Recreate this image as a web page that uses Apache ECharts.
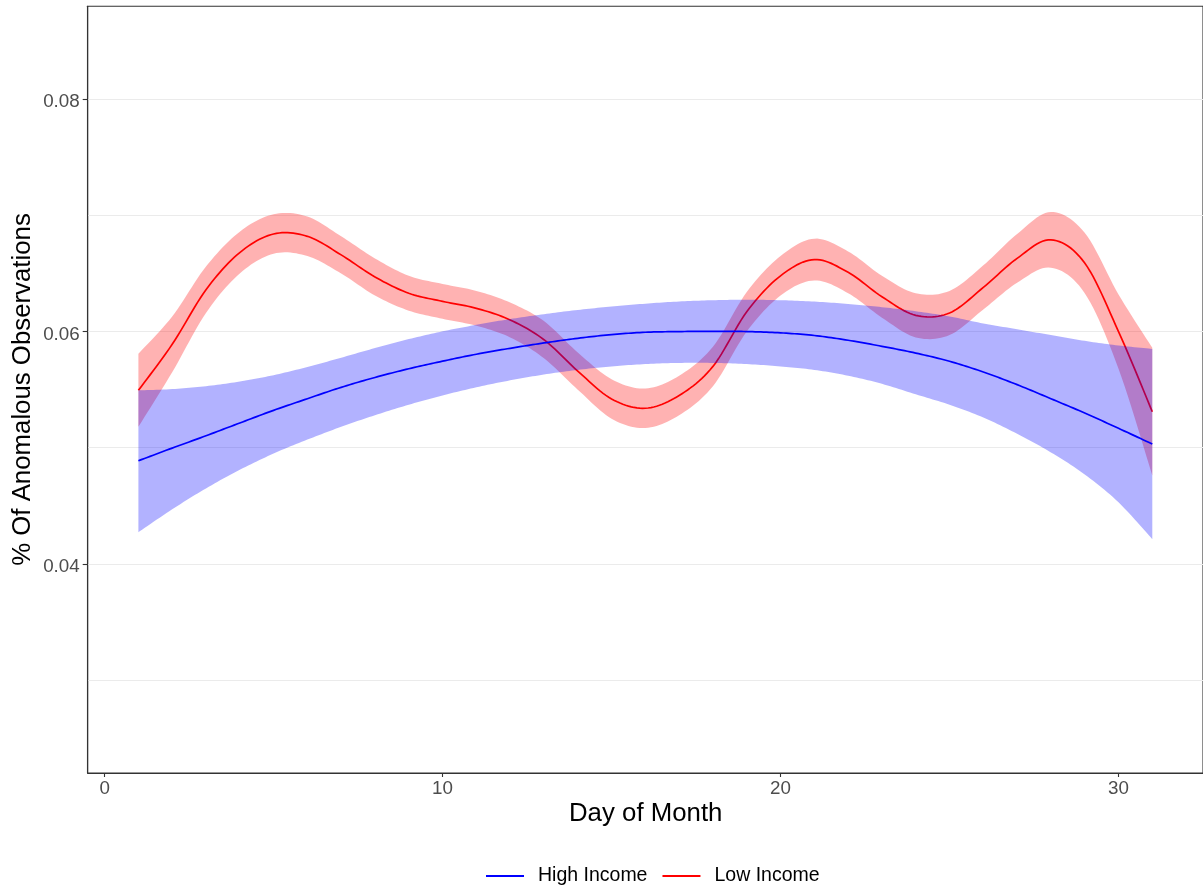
<!DOCTYPE html>
<html>
<head>
<meta charset="utf-8">
<script src="https://cdn.jsdelivr.net/npm/echarts@6/dist/echarts.min.js"></script>
<style>
html,body{margin:0;padding:0;background:#ffffff;}
#chart{width:1203px;height:888px;}
</style>
</head>
<body>
<div id="chart"></div>
<script>
// ---- data ----
const days = [1,2,3,4,5,6,7,8,9,10,11,12,13,14,15,16,17,18,19,20,21,22,23,24,25,26,27,28,29,30,31];

const highMean  = [0.04888,0.04997,0.05103,0.05213,0.05322,0.05422,0.0552,0.05605,0.0568,0.05745,0.05805,0.05856,0.05902,0.05942,0.05974,0.05994,0.06,0.06002,0.06,0.05989,0.05966,0.05925,0.05873,0.05815,0.05744,0.05652,0.05543,0.05422,0.05299,0.05167,0.05032];
const highUpper = [0.05494,0.05505,0.0553,0.0557,0.05625,0.05695,0.05775,0.05858,0.05935,0.06002,0.06058,0.06108,0.0615,0.06186,0.06216,0.0624,0.06259,0.0627,0.06274,0.0627,0.06258,0.06238,0.0621,0.06175,0.0613,0.0607,0.0602,0.0597,0.0592,0.0588,0.05851];
const highLower = [0.04273,0.0447,0.0465,0.0481,0.0495,0.0507,0.0518,0.0528,0.0537,0.0545,0.0552,0.0558,0.0563,0.0567,0.057,0.0572,0.0573,0.0573,0.0572,0.057,0.0567,0.0562,0.0555,0.0546,0.0537,0.0526,0.0512,0.0496,0.0477,0.0453,0.04213];

const lowMean  = [0.05494,0.0589,0.0636,0.0668,0.0684,0.0682,0.0666,0.0647,0.0633,0.0626,0.062,0.061,0.0593,0.0566,0.0542,0.0534,0.0545,0.057,0.0617,0.0648,0.0662,0.0651,0.063,0.0614,0.0616,0.0638,0.0663,0.0679,0.0659,0.06,0.0531];
const lowUpper = [0.0581,0.0613,0.0656,0.0686,0.0701,0.0699,0.0682,0.0663,0.0648,0.0641,0.0635,0.0625,0.0609,0.0582,0.0559,0.0551,0.0562,0.0587,0.0634,0.0665,0.068,0.0669,0.0648,0.0633,0.0635,0.0657,0.0684,0.0703,0.0685,0.0632,0.0586];
const lowLower = [0.0518,0.0565,0.0616,0.065,0.0667,0.0665,0.065,0.0631,0.0618,0.0611,0.0605,0.0595,0.0577,0.055,0.0525,0.0517,0.0528,0.0553,0.06,0.0631,0.0644,0.0633,0.0612,0.0595,0.0597,0.0619,0.0642,0.0655,0.0633,0.0568,0.0476];

const xTicks = [0, 10, 20, 30];
const yLabelTicks = [0.04, 0.06, 0.08];
const yGridTicks = [0.03, 0.04, 0.05, 0.06, 0.07, 0.08];
const seriesNames = ['High Income', 'Low Income'];

// ---- build ----
const FONT = '"Liberation Sans", Arial, Helvetica, sans-serif';

// Catmull-Rom smoothing of already-projected pixel points (drawing only)
function smoothPx(pts, steps) {
  const out = [];
  const n = pts.length;
  for (let i = 0; i < n - 1; i++) {
    const p0 = pts[Math.max(i - 1, 0)], p1 = pts[i], p2 = pts[i + 1], p3 = pts[Math.min(i + 2, n - 1)];
    for (let s = 0; s < steps; s++) {
      const t = s / steps, t2 = t * t, t3 = t2 * t;
      const f = k => 0.5 * (2 * p1[k] + (-p0[k] + p2[k]) * t + (2 * p0[k] - 5 * p1[k] + 4 * p2[k] - p3[k]) * t2 + (-p0[k] + 3 * p1[k] - 3 * p2[k] + p3[k]) * t3);
      out.push([f(0), f(1)]);
    }
  }
  out.push(pts[n - 1]);
  return out;
}

function makeGroup(name, color, bandColor, mean, upper, lower) {
  return {
    name: name,
    type: 'custom',
    coordinateSystem: 'cartesian2d',
    data: [[days[0], mean[0]]],
    itemStyle: { color: color },
    silent: true,
    clip: true,
    renderItem: function (params, api) {
      const up = smoothPx(days.map((d, i) => api.coord([d, upper[i]])), 12);
      const lo = smoothPx(days.map((d, i) => api.coord([d, lower[i]])), 12);
      const mid = smoothPx(days.map((d, i) => api.coord([d, mean[i]])), 12);
      const poly = up.concat(lo.slice().reverse());
      return {
        type: 'group',
        children: [
          { type: 'polygon', shape: { points: poly }, style: { fill: bandColor, stroke: null } },
          { type: 'polyline', shape: { points: mid }, style: { stroke: color, lineWidth: 1.7, fill: null } }
        ]
      };
    }
  };
}

const chart = echarts.init(document.getElementById('chart'), null, { renderer: 'canvas' });

const option = {
  backgroundColor: '#ffffff',
  animation: false,
  grid: { left: 87.7, top: 6.3, width: 1116, height: 766.7, show: true,
          borderColor: '#333333', borderWidth: 1.1, backgroundColor: 'transparent' },
  legend: {
    data: seriesNames,
    left: 481, top: 861,
    icon: 'rect', itemWidth: 38, itemHeight: 2, itemGap: 15,
    textStyle: { fontFamily: FONT, fontSize: 19.5, color: '#000000', padding: [0, 0, 0, 9] }
  },
  xAxis: {
    type: 'value', min: -0.5, max: 32.5,
    axisLine: { show: true, onZero: false, lineStyle: { color: '#333333', width: 1.1 } },
    axisTick: { show: true, length: 4, customValues: xTicks, lineStyle: { color: '#333333', width: 1.1 } },
    axisLabel: { customValues: xTicks, color: '#4d4d4d', fontSize: 18.8, fontFamily: FONT, margin: 6 },
    splitLine: { show: false }
  },
  yAxis: [
    {
      type: 'value', min: 0.022, max: 0.088,
      axisLine: { show: true, onZero: false, lineStyle: { color: '#333333', width: 1.1 } },
      axisTick: { show: true, length: 5, customValues: yLabelTicks, lineStyle: { color: '#333333', width: 1.1 } },
      axisLabel: { customValues: yLabelTicks, color: '#4d4d4d', fontSize: 18.8, fontFamily: FONT, margin: 8,
                   formatter: v => '{t|' + v.toFixed(2) + '}',
                   rich: { t: { color: '#4d4d4d', fontSize: 18.8, fontFamily: FONT, padding: [6, 0, 0, 0] } } },
      splitLine: { show: false }
    },
    {
      type: 'value', min: 0.022, max: 0.088, position: 'left',
      axisLine: { show: false },
      axisTick: { show: false, customValues: yGridTicks },
      axisLabel: { show: false, customValues: yGridTicks },
      splitLine: { show: true, lineStyle: { color: '#ebebeb', width: 1.1 } }
    }
  ],
  graphic: [
    { type: 'text', x: 645.7, y: 814, z: 10,
      style: { text: 'Day of Month', font: '25.8px ' + FONT, fill: '#000000',
               align: 'center', verticalAlign: 'middle', textAlign: 'center', textVerticalAlign: 'middle' } },
    { type: 'text', x: 23, y: 389.5, rotation: Math.PI / 2, z: 10,
      style: { text: '% Of Anomalous Observations', font: '25.8px ' + FONT, fill: '#000000',
               align: 'center', verticalAlign: 'middle', textAlign: 'center', textVerticalAlign: 'middle' } }
  ],
  series: [
    makeGroup('Low Income', '#ff0000', 'rgba(255,0,0,0.3)', lowMean, lowUpper, lowLower),
    makeGroup('High Income', '#0000ff', 'rgba(0,0,255,0.3)', highMean, highUpper, highLower)
  ]
};
chart.setOption(option);
</script>
</body>
</html>
